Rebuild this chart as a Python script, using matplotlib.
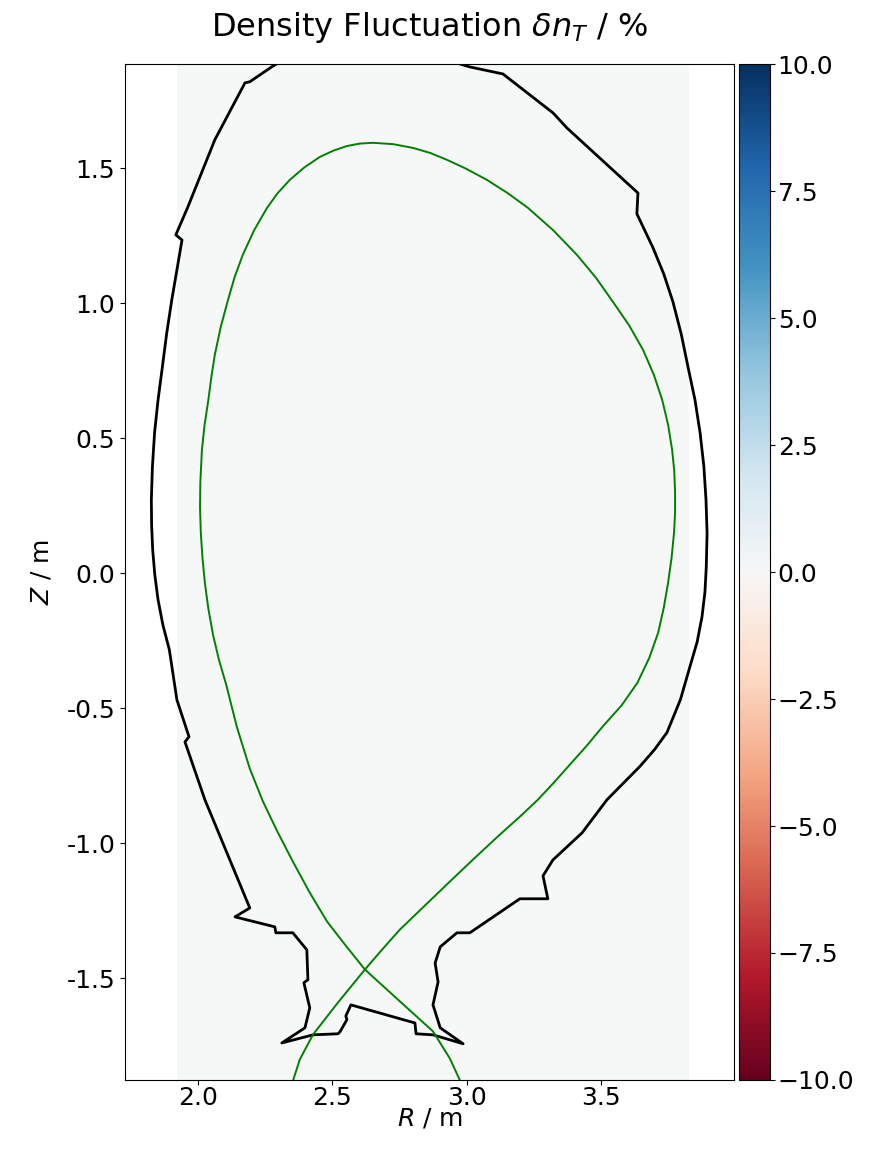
import numpy as np
import matplotlib
matplotlib.use("Agg")
import matplotlib.pyplot as plt

# first wall contour (R, Z in m), top part runs above the plotted window
wall_R = [2.287, 2.194, 2.176, 2.064, 1.964, 1.919, 1.942, 1.904, 1.885, 1.869,
          1.853, 1.840, 1.832, 1.828, 1.829, 1.833, 1.841, 1.853, 1.871, 1.895,
          1.923, 1.968, 1.953, 2.027, 2.194, 2.139,
          2.287, 2.291, 2.354, 2.406, 2.410, 2.395, 2.417, 2.399, 2.313, 2.429,
          2.522, 2.529, 2.555, 2.551, 2.570, 2.808, 2.812, 2.875, 2.987, 2.902,
          2.875, 2.894, 2.883, 2.902, 2.964, 3.012, 3.198, 3.302, 3.284, 3.321,
          3.429, 3.522, 3.644, 3.699, 3.745, 3.795, 3.830, 3.857, 3.875, 3.886,
          3.891, 3.894, 3.890, 3.882, 3.868, 3.849, 3.823, 3.798, 3.767, 3.733,
          3.693, 3.633, 3.637, 3.373, 3.321, 3.135, 3.012, 2.975,
          2.80, 2.55, 2.40, 2.287]
wall_Z = [1.883, 1.820, 1.816, 1.605, 1.357, 1.253, 1.234, 1.012, 0.888, 0.764,
          0.642, 0.520, 0.395, 0.271, 0.178, 0.086, -0.007, -0.099, -0.192, -0.284,
          -0.469, -0.606, -0.625, -0.839, -1.240, -1.273,
          -1.310, -1.332, -1.332, -1.395, -1.506, -1.517, -1.610, -1.684, -1.740, -1.710,
          -1.706, -1.699, -1.654, -1.640, -1.599, -1.666, -1.706, -1.710, -1.743, -1.684,
          -1.599, -1.514, -1.444, -1.384, -1.332, -1.332, -1.206, -1.206, -1.121, -1.062,
          -0.962, -0.839, -0.716, -0.653, -0.590, -0.468, -0.347, -0.255, -0.162, -0.070,
          0.023, 0.149, 0.271, 0.396, 0.520, 0.642, 0.764, 0.885, 1.005, 1.108,
          1.205, 1.331, 1.408, 1.649, 1.705, 1.849, 1.875, 1.886,
          1.95, 1.98, 1.95, 1.883]

# separatrix, outer strike leg -> X-point -> around the core -> X-point -> inner leg
sep_R = [2.985, 2.938, 2.875, 2.752, 2.622, 2.548, 2.481, 2.415, 2.354, 2.296,
         2.243, 2.194, 2.146, 2.106, 2.079, 2.057, 2.040, 2.027, 2.018, 2.012,
         2.009, 2.010, 2.016, 2.026, 2.040, 2.051, 2.064, 2.086, 2.113, 2.138,
         2.168, 2.210, 2.258, 2.298, 2.343, 2.397, 2.455, 2.505, 2.555, 2.602,
         2.652, 2.727, 2.801, 2.866, 2.927, 3.000, 3.075, 3.152, 3.228, 3.322,
         3.410, 3.481, 3.544, 3.604, 3.656, 3.696, 3.727, 3.749, 3.764, 3.772,
         3.775, 3.775, 3.771, 3.762, 3.749, 3.733, 3.712, 3.679, 3.635, 3.576,
         3.505, 3.446, 3.384, 3.326, 3.265, 3.197, 3.124, 3.030, 2.938, 2.845,
         2.752, 2.686, 2.622, 2.522, 2.429, 2.380, 2.348]
sep_Z = [-1.900, -1.798, -1.697, -1.586, -1.468, -1.376, -1.290, -1.180, -1.068, -0.956,
         -0.846, -0.724, -0.570, -0.412, -0.320, -0.227, -0.132, -0.036, 0.057, 0.149,
         0.241, 0.334, 0.457, 0.550, 0.642, 0.726, 0.809, 0.912, 1.012, 1.098,
         1.179, 1.270, 1.353, 1.408, 1.457, 1.503, 1.542, 1.565, 1.582, 1.591,
         1.594, 1.589, 1.575, 1.556, 1.531, 1.497, 1.457, 1.408, 1.353, 1.270,
         1.179, 1.094, 1.005, 0.918, 0.827, 0.735, 0.642, 0.550, 0.457, 0.378,
         0.298, 0.224, 0.149, 0.057, -0.036, -0.128, -0.221, -0.314, -0.406, -0.490,
         -0.569, -0.640, -0.709, -0.774, -0.839, -0.903, -0.968, -1.055, -1.142, -1.231,
         -1.320, -1.394, -1.468, -1.590, -1.709, -1.801, -1.900]

# density fluctuation on the synthetic grid (flat at zero here)
grid_R = [1.922, 3.827]
grid_Z = [-1.90, 1.90]
dn_T = [[0.0]]

x_ticks = [2.0, 2.5, 3.0, 3.5]
y_ticks = [-1.5, -1.0, -0.5, 0.0, 0.5, 1.0, 1.5]
y_labels = ['-1.5', '-1.0', '-0.5', '0.0', '0.5', '1.0', '1.5']
cbar_ticks = [-10, -7.5, -5, -2.5, 0, 2.5, 5, 7.5, 10]

plt.rcParams['font.size'] = 18

fig = plt.figure(figsize=(8.74, 11.49), dpi=100)
ax = fig.add_axes([0.1430, 0.0601, 0.6968, 0.8840])
cax = fig.add_axes([0.8455, 0.0601, 0.0355, 0.8840])

mesh = ax.pcolormesh(grid_R, grid_Z, np.array(dn_T), cmap='RdBu', vmin=-10, vmax=10)
ax.plot(wall_R, wall_Z, color='black', lw=2.0)
ax.plot(sep_R, sep_Z, color='green', lw=1.4)

ax.set_xlim(1.73, 3.994)
ax.set_ylim(-1.877, 1.885)
ax.set_xticks(x_ticks)
ax.set_yticks(y_ticks, y_labels)
ax.tick_params(axis='x', pad=1)
ax.set_xlabel('$R$ / m', labelpad=-3)
ax.set_ylabel('$Z$ / m', labelpad=9)
ax.set_title(r'Density Fluctuation $\delta n_T$ / %', fontsize=23, pad=20)

cbar = fig.colorbar(mesh, cax=cax, ticks=cbar_ticks)
cbar.ax.tick_params(pad=2)

fig.savefig('out.png', dpi=100)
